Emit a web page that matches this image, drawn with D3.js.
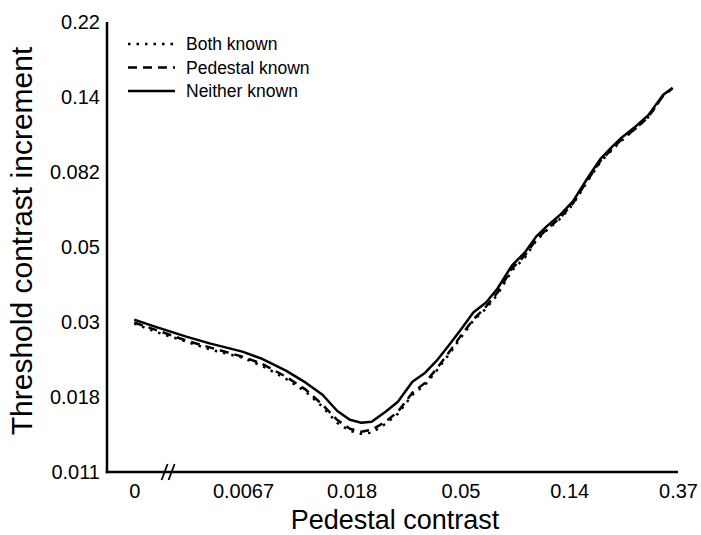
<!DOCTYPE html>
<html>
<head>
<meta charset="utf-8">
<script src="https://cdn.jsdelivr.net/npm/d3@7"></script>
<style>
  html, body { margin: 0; padding: 0; background: #fff; }
  svg { display: block; font-family: "Liberation Sans", Arial, Helvetica, sans-serif; }
</style>
</head>
<body>
<svg id="chart" width="701" height="535"></svg>
<script>
// ---- data ----
const pedestal = [0, 0.003, 0.004, 0.005, 0.0067, 0.008, 0.01, 0.012, 0.014, 0.016, 0.018, 0.02, 0.022, 0.025, 0.028, 0.032, 0.036, 0.04, 0.045, 0.05, 0.056, 0.063, 0.07, 0.08, 0.09, 0.1, 0.11, 0.125, 0.14, 0.16, 0.18, 0.2, 0.22, 0.25, 0.28, 0.32, 0.35];
const neitherKnown = [0.03067,0.02927,0.02738,0.02613,0.02477,0.02364,0.02182,0.02014,0.01858,0.01670,0.01572,0.01541,0.01552,0.01659,0.01773,0.02027,0.02153,0.02332,0.02596,0.02869,0.03214,0.03436,0.03773,0.04401,0.04800,0.05341,0.05711,0.06187,0.06749,0.07870,0.08935,0.09681,0.1035,0.1114,0.1199,0.1370,0.1436];
const pedestalKnown = [0.03007,0.02869,0.02666,0.02544,0.02396,0.02286,0.02096,0.01922,0.01738,0.01572,0.01481,0.01451,0.01471,0.01552,0.01659,0.01883,0.02014,0.02211,0.02477,0.02756,0.03067,0.03346,0.03674,0.04313,0.04705,0.05235,0.05597,0.06064,0.06659,0.07765,0.08816,0.09552,0.1021,0.1099,0.1183,0.1361,0.1436];
const bothKnown = [0.02987,0.02831,0.02648,0.02510,0.02380,0.02256,0.02068,0.01896,0.01715,0.01541,0.01461,0.01432,0.01442,0.01531,0.01637,0.01858,0.01987,0.02182,0.02444,0.02720,0.03047,0.03301,0.03625,0.04256,0.04642,0.05200,0.05560,0.06024,0.06615,0.07713,0.08758,0.09488,0.1014,0.1099,0.1183,0.1361,0.1436];

const seriesNames = ["Both known", "Pedestal known", "Neither known"];

// tick positions (log spaced) and their printed labels
const xTickValues = [0.00248, 0.00674, 0.0183, 0.0498, 0.1353, 0.3679];
const xTickLabels = ["0", "0.0067", "0.018", "0.05", "0.14", "0.37"];
const yTickValues = [0.0111, 0.0183, 0.0302, 0.0498, 0.0821, 0.1353, 0.2231];
const yTickLabels = ["0.011", "0.018", "0.03", "0.05", "0.082", "0.14", "0.22"];
const zeroPosition = 0.00248;   // where pedestal "0" is drawn on the log axis
const breakPosition = 0.0034;   // where the axis break "//" is drawn

// ---- layout ----
const svg = d3.select("#chart");
const mLeft = 107, mRight = 678, mTop = 22, mBottom = 472;

const x = d3.scaleLog().domain([0.00193, 0.3679]).range([mLeft, mRight]);
const y = d3.scaleLog().domain([0.0111, 0.2231]).range([mBottom, mTop]);
const px = c => x(c === 0 ? zeroPosition : c);

// axes
const xAxis = d3.axisBottom(x).tickValues(xTickValues).tickSize(0).tickPadding(12)
  .tickFormat((d, i) => xTickLabels[i]);
const yAxis = d3.axisLeft(y).tickValues(yTickValues).tickSize(0).tickPadding(7)
  .tickFormat((d, i) => yTickLabels[i]);

const gx = svg.append("g").attr("transform", `translate(0,${mBottom})`).call(xAxis);
const gy = svg.append("g").attr("transform", `translate(${mLeft},0)`).call(yAxis);
[gx, gy].forEach(g => {
  g.select(".domain").attr("stroke", "#000").attr("stroke-width", 2.5);
  g.selectAll("text").attr("font-size", 20).attr("fill", "#000")
    .attr("font-family", '"Liberation Sans", Arial, sans-serif');
});
gy.select(".domain").attr("d", `M0,${mBottom + 1.25}V${mTop}`);
gx.select(".domain").attr("d", `M${mLeft - 1.25},0H${mRight}`);

// axis break marks
const bx = x(breakPosition);
svg.append("path")
  .attr("d", `M${bx - 7},${mBottom + 8}L${bx - 1},${mBottom - 8}M${bx},${mBottom + 8}L${bx + 6},${mBottom - 8}`)
  .attr("stroke", "#000").attr("stroke-width", 1.8).attr("fill", "none");

// axis titles
svg.append("text").attr("x", 395).attr("y", 529).attr("text-anchor", "middle")
  .attr("font-size", 27).text("Pedestal contrast");
svg.append("text").attr("transform", "translate(32,241) rotate(-90)").attr("text-anchor", "middle")
  .attr("font-size", 30).text("Threshold contrast increment");

// lines
const styles = {
  "Both known": { dash: "2.5,6" },
  "Pedestal known": { dash: "9,6" },
  "Neither known": { dash: null }
};
const seriesData = {
  "Both known": bothKnown,
  "Pedestal known": pedestalKnown,
  "Neither known": neitherKnown
};
const line = d3.line().x(d => px(d[0])).y(d => y(d[1])).curve(d3.curveLinear);

seriesNames.forEach(name => {
  const pts = pedestal.map((p, i) => [p, seriesData[name][i]]);
  svg.append("path").datum(pts)
    .attr("d", line)
    .attr("fill", "none").attr("stroke", "#000").attr("stroke-width", 2.5)
    .attr("stroke-linejoin", "round")
    .attr("stroke-dasharray", styles[name].dash);
});

// legend
const legend = svg.append("g").attr("transform", "translate(128,44)");
seriesNames.forEach((name, i) => {
  const g = legend.append("g").attr("transform", `translate(0,${i * 23.5})`);
  g.append("line").attr("x1", 0).attr("x2", 47).attr("y1", 0).attr("y2", 0)
    .attr("stroke", "#000").attr("stroke-width", 2.5)
    .attr("stroke-dasharray", styles[name].dash);
  g.append("text").attr("x", 58).attr("y", 0).attr("dy", "0.35em")
    .attr("font-size", 17.5).text(name);
});
</script>
</body>
</html>
